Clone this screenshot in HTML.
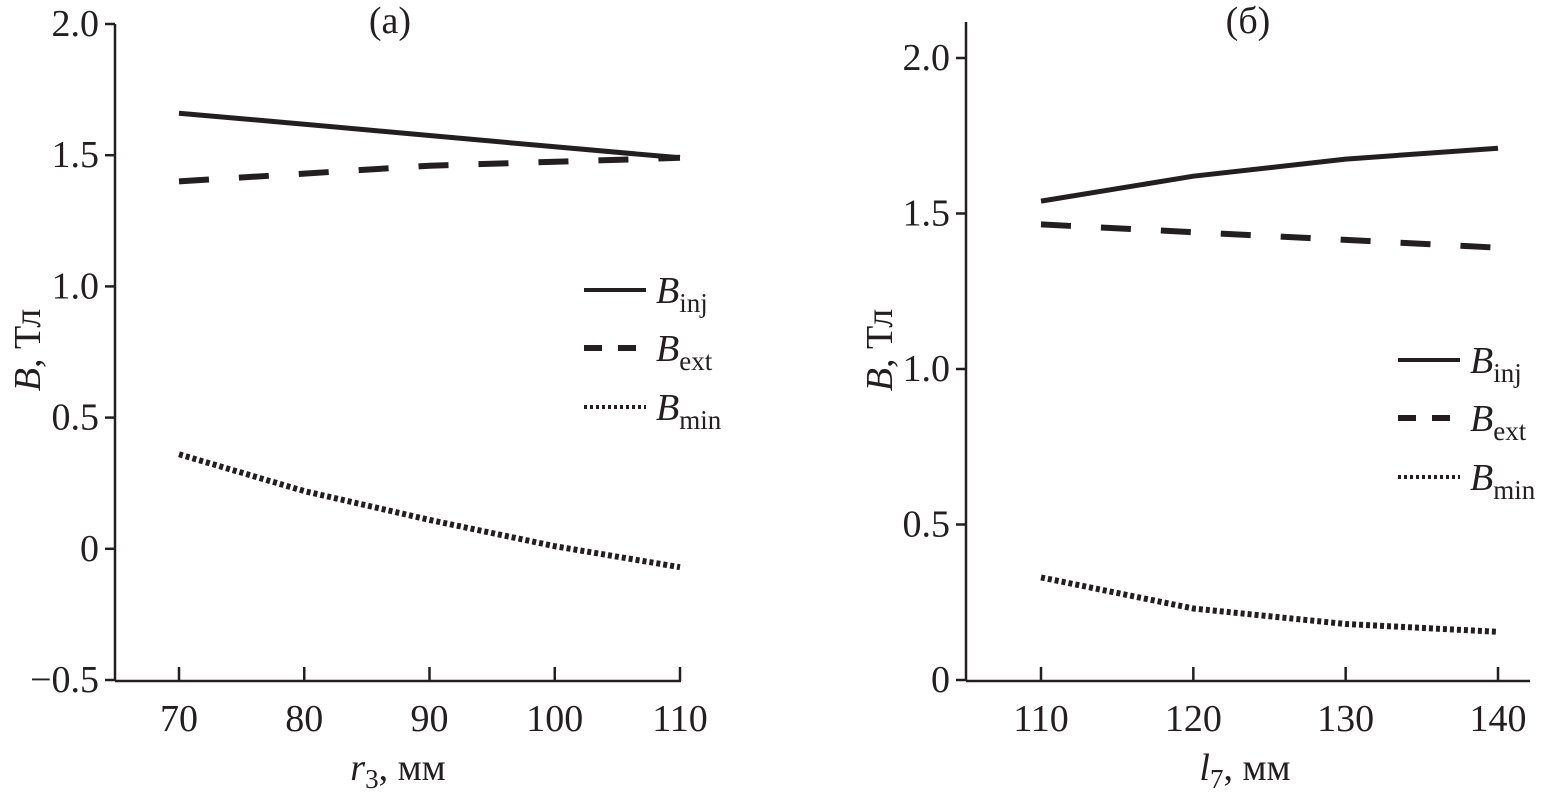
<!DOCTYPE html>
<html><head><meta charset="utf-8">
<style>
html,body{margin:0;padding:0;background:#fff;}
svg{display:block;font-family:"Liberation Serif",serif;}
text{fill:#231f20;}
</style></head>
<body>
<svg id="chart" width="1544" height="799" viewBox="0 0 1544 799" xmlns="http://www.w3.org/2000/svg"></svg>
<script>
// Panel (a)
const aX = [70, 80, 90, 100, 110];
const aInj = [1.66, 1.618, 1.575, 1.532, 1.49];
const aExt = [1.40, 1.43, 1.46, 1.475, 1.49];
const aMin = [0.36, 0.22, 0.11, 0.01, -0.07];
const aXTicks = [70, 80, 90, 100, 110];
const aYTicks = [-0.5, 0, 0.5, 1.0, 1.5, 2.0];
const aYLabels = ["\u22120.5", "0", "0.5", "1.0", "1.5", "2.0"];
// Panel (b)
const bX = [110, 120, 130, 140];
const bInj = [1.54, 1.62, 1.675, 1.71];
const bExt = [1.465, 1.44, 1.415, 1.39];
const bMin = [0.33, 0.23, 0.18, 0.155];
const bXTicks = [110, 120, 130, 140];
const bYTicks = [0, 0.5, 1.0, 1.5, 2.0];
const bYLabels = ["0", "0.5", "1.0", "1.5", "2.0"];

const NS = "http://www.w3.org/2000/svg";
const svg = document.getElementById("chart");
function mk(tag, attrs, parent, txt) {
  const e = document.createElementNS(NS, tag);
  for (const k in attrs) e.setAttribute(k, attrs[k]);
  if (txt !== undefined) e.textContent = txt;
  (parent || svg).appendChild(e);
  return e;
}
const styles = {
  inj: {"stroke-width": 5},
  ext: {"stroke-width": 6, "stroke-dasharray": "30 30"},
  min: {"stroke-width": 6, "stroke-dasharray": "4 3"}
};
const FS = 38;

function panel(cfg) {
  const g = mk("g", {});
  
  
  const sx = v => cfg.x0 + (v - cfg.xv0) * (cfg.x1 - cfg.x0) / (cfg.xv1 - cfg.xv0);
  const sy = v => cfg.y0 + (v - cfg.yv0) * (cfg.y1 - cfg.y0) / (cfg.yv1 - cfg.yv0);
  const ax = mk("line", {x1: cfg.axL, y1: cfg.axB, x2: cfg.axR, y2: cfg.axB, stroke: "#231f20", "stroke-width": 2.5}, g);
  
  
  const ay = mk("line", {x1: cfg.axL, y1: cfg.axT, x2: cfg.axL, y2: cfg.axB, stroke: "#231f20", "stroke-width": 2.5}, g);
  
  
  cfg.xt.forEach(v => {
    const t = mk("line", {x1: sx(v), y1: cfg.axB, x2: sx(v), y2: cfg.axB - 14, stroke: "#231f20", "stroke-width": 2.5}, g);
    
    
    const l = mk("text", {x: sx(v), y: cfg.axB + 50, "text-anchor": "middle", "font-size": FS}, g, String(v));
    
    
  });
  cfg.yt.forEach((v, i) => {
    const t = mk("line", {x1: cfg.axL - 10, y1: sy(v), x2: cfg.axL, y2: sy(v), stroke: "#231f20", "stroke-width": 2.5}, g);
    
    
    const l = mk("text", {x: cfg.axL - 16, y: sy(v) + 12, "text-anchor": "end", "font-size": FS}, g, cfg.yl[i]);
    
    
  });
  [["inj", cfg.inj], ["ext", cfg.ext], ["min", cfg.min]].forEach(([k, arr]) => {
    const pts = arr.map((v, i) => sx(cfg.xs[i]).toFixed(1) + "," + sy(v).toFixed(1)).join(" ");
    const p = mk("polyline", Object.assign({points: pts, fill: "none", stroke: "#231f20"}, styles[k]), g);
    
    
  });
  [["inj", "inj"], ["ext", "ext"], ["min", "min"]].forEach(([k, sub], i) => {
    const y = cfg.legY[i];
    const eg = mk("g", {}, g);
    
    
    const ln = Object.assign({x1: cfg.legX, y1: y, x2: cfg.legX + 62, y2: y, stroke: "#231f20"}, styles[k]);
    if (k === "ext") ln["stroke-dasharray"] = "18 16";
    if (k === "min") { ln["stroke-dasharray"] = "3 3"; ln["stroke-width"] = 4; }
    if (k === "inj") ln["stroke-width"] = 4;
    mk("line", ln, eg);
    const t = mk("text", {x: cfg.legX + 72, y: y + 13, "font-size": FS}, eg);
    mk("tspan", {"font-style": "italic"}, t, "B");
    mk("tspan", {"font-size": 27, dy: 9}, t, sub);
  });
  const tt = mk("text", {x: cfg.titleX, y: 33, "text-anchor": "middle", "font-size": FS}, g, cfg.title);
  
  
  const yt = mk("text", {transform: `translate(${cfg.ytX},350) rotate(-90)`, "text-anchor": "middle", "font-size": FS}, g);
  
  
  mk("tspan", {"font-style": "italic"}, yt, "B");
  mk("tspan", {}, yt, ", Тл");
  const xt = mk("text", {x: cfg.xtX, y: 780, "text-anchor": "middle", "font-size": FS}, g);
  
  
  mk("tspan", {"font-style": "italic"}, xt, cfg.xVar);
  mk("tspan", {"font-size": 27, dy: 8}, xt, cfg.xSub);
  mk("tspan", {dy: -8}, xt, ", мм");
}

panel({name: "panel-a", x0: 179, x1: 680, xv0: 70, xv1: 110, y0: 680, y1: 24, yv0: -0.5, yv1: 2.0,
  axL: 115, axR: 681, axT: 24, axB: 681, xs: aX, inj: aInj, ext: aExt, min: aMin,
  xt: aXTicks, yt: aYTicks, yl: aYLabels, legX: 584, legY: [290, 348, 407],
  title: "(a)", titleX: 390, ytX: 40, xtX: 398, xVar: "r", xSub: "3"});
panel({name: "panel-b", x0: 1041, x1: 1498, xv0: 110, xv1: 140, y0: 680, y1: 58, yv0: 0, yv1: 2.0,
  axL: 966, axR: 1530, axT: 22, axB: 681, xs: bX, inj: bInj, ext: bExt, min: bMin,
  xt: bXTicks, yt: bYTicks, yl: bYLabels, legX: 1398, legY: [360, 418, 477],
  title: "(б)", titleX: 1248, ytX: 892, xtX: 1245, xVar: "l", xSub: "7"});
</script>
</body></html>
